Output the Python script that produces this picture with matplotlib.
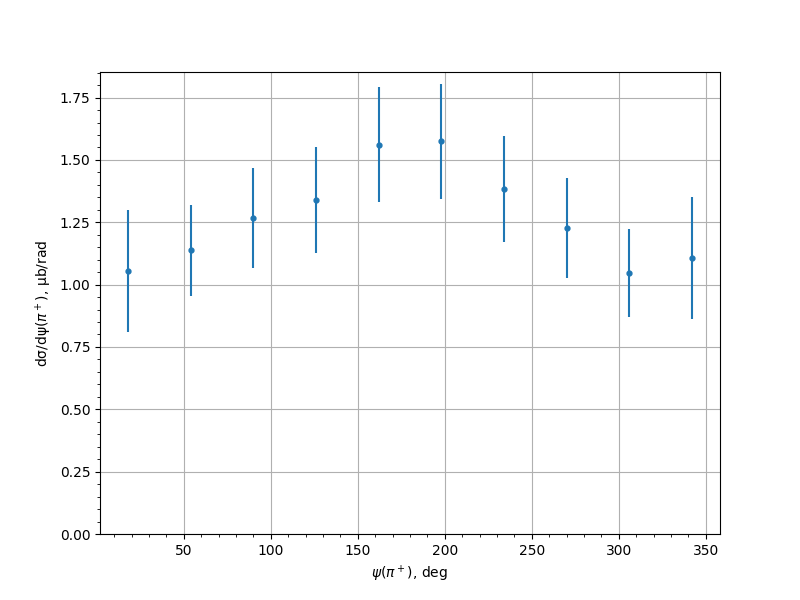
import matplotlib
matplotlib.use("Agg")
import matplotlib.pyplot as plt
import numpy as np

psi = [18, 54, 90, 126, 162, 198, 234, 270, 306, 342]
xsec = [1.055, 1.137, 1.267, 1.339, 1.561, 1.574, 1.382, 1.226, 1.046, 1.108]
err = [0.244, 0.183, 0.199, 0.214, 0.230, 0.229, 0.212, 0.200, 0.177, 0.244]

fig, ax = plt.subplots(figsize=(8, 6), dpi=100)
ax.errorbar(psi, xsec, yerr=err, fmt='o', markersize=3.5, color='#1f77b4')
ax.set_ylim(bottom=0)
ax.minorticks_on()
ax.grid(True, which='major')
ax.set_xlabel(r'$\psi(\pi^+)$, deg')
ax.set_ylabel(r'dσ/dψ($\pi^+$), μb/rad')
fig.savefig('out.png', dpi=100)
